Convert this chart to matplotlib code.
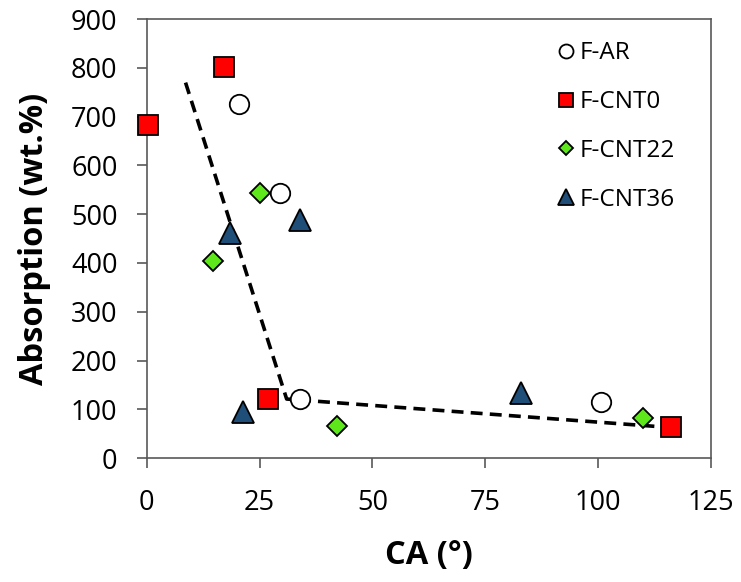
import matplotlib
matplotlib.use("Agg")
import matplotlib.pyplot as plt

ar_x = [20.4, 29.5, 33.9, 100.6]
ar_y = [727, 543, 121, 115]
cnt0_x = [17.1, 0.3, 26.8, 116.1]
cnt0_y = [801, 684, 121, 64]
cnt22_x = [25.0, 14.6, 42.1, 110.0]
cnt22_y = [543, 404, 66, 82]
cnt36_x = [18.4, 33.9, 21.3, 82.9]
cnt36_y = [461, 488, 94, 133]
trend_x = [8.6, 31.0, 114.0]
trend_y = [770, 121, 64]

plt.rcParams['font.family'] = ['Open Sans', 'DejaVu Sans']

fig = plt.figure(figsize=(7.41, 5.82), dpi=100)
ax = fig.add_axes([0.198, 0.213, 0.7615, 0.754])

ax.plot(trend_x, trend_y, ls=(0, (3.3, 2)), color='black', lw=2.6, zorder=2)
ax.plot(ar_x, ar_y, 'o', ms=14, mfc='white', mec='black', mew=1.3, label='F-AR', zorder=3, clip_on=False)
ax.plot(cnt0_x, cnt0_y, 's', ms=14, mfc='#ff0000', mec='black', mew=1.3, label='F-CNT0', zorder=3, clip_on=False)
ax.plot(cnt22_x, cnt22_y, 'D', ms=10.5, mfc='#5ee81c', mec='black', mew=1.3, label='F-CNT22', zorder=3, clip_on=False)
ax.plot(cnt36_x, cnt36_y, '^', ms=16, mfc='#1f4e79', mec='black', mew=1.3, label='F-CNT36', zorder=3, clip_on=False)

ax.set_xlim(0, 125)
ax.set_ylim(0, 900)
ax.set_xticks([0, 25, 50, 75, 100, 125])
ax.set_yticks(range(0, 901, 100))
for s in ax.spines.values():
    s.set_color('#595959')
    s.set_linewidth(1.2)
ax.tick_params(direction='out', length=7, width=1.2, color='#595959', labelsize=19.5)
ax.tick_params(axis='y', pad=14)
ax.tick_params(axis='x', pad=15)
ax.set_xlabel('CA (°)', fontsize=23.5, fontweight='bold', labelpad=16)
ax.set_ylabel('Absorption (wt.%)', fontsize=23.5, fontweight='bold', labelpad=14)

leg = ax.legend(loc='upper left', bbox_to_anchor=(0.704, 0.972), frameon=False, fontsize=17.5,
                handletextpad=0.05, labelspacing=1.02, borderaxespad=0.0,
                markerscale=0.72, handlelength=1.0)

fig.savefig('out.png', dpi=100)
